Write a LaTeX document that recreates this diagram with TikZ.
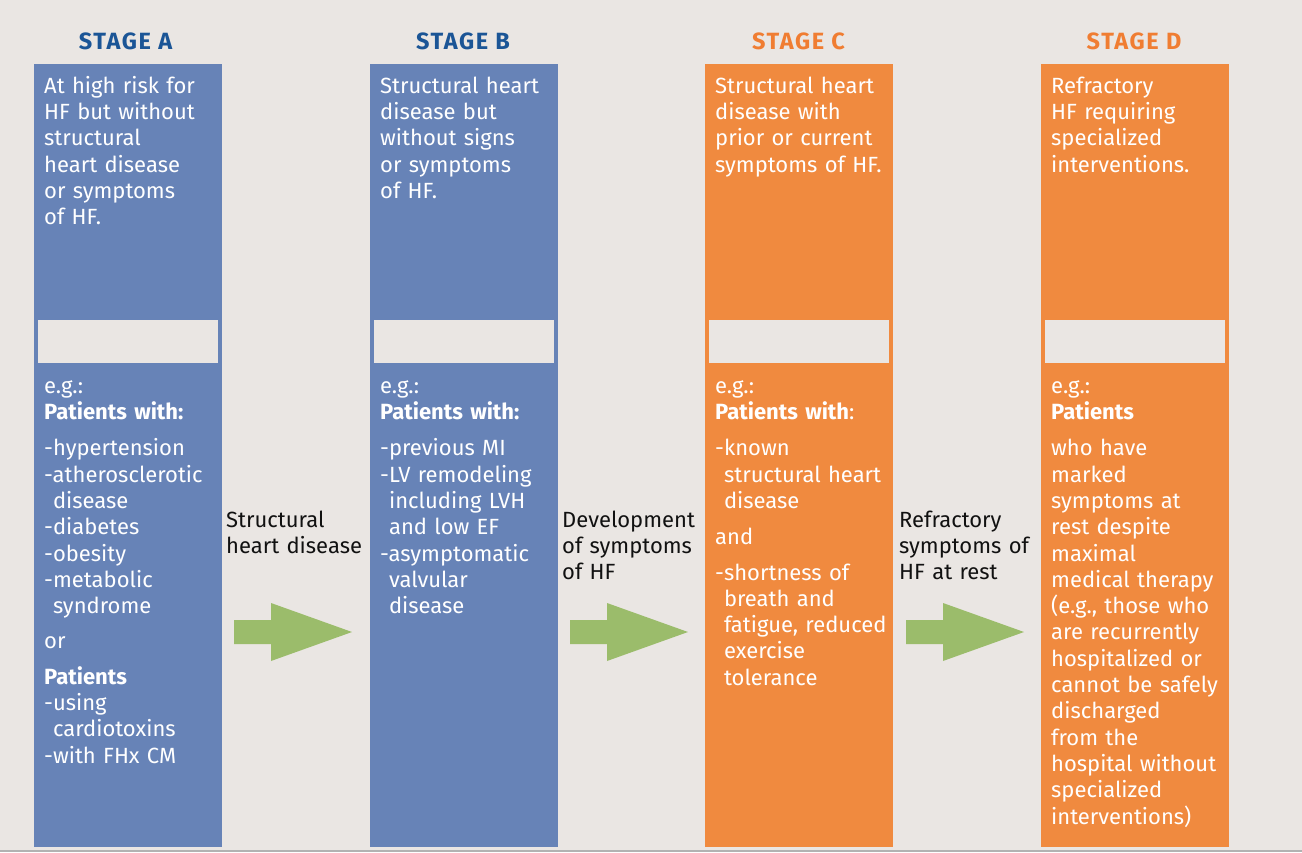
\documentclass[tikz,border=0pt]{standalone}
\usepackage{fontspec}
\setmainfont{Fira Sans}
\usetikzlibrary{calc}
\definecolor{bg}{HTML}{EAE6E3}
\definecolor{colblue}{HTML}{6783B7}
\definecolor{colorange}{HTML}{F08A3F}
\definecolor{tblue}{HTML}{1B5596}
\definecolor{torange}{HTML}{F07D32}
\definecolor{agreen}{HTML}{9BBC6B}
\definecolor{lbl}{HTML}{111111}
\newcommand{\hg}{\phantom{-}}
\begin{document}
\begin{tikzpicture}[x=1pt,y=-1pt,
  column/.style={anchor=north west, inner sep=0, minimum width=188pt, minimum height=783pt},
  bluecol/.style={column, fill=colblue},
  orangecol/.style={column, fill=colorange},
  bar/.style={anchor=north west, inner sep=0, fill=bg, minimum width=180pt, minimum height=43pt},
  title/.style={anchor=base, inner sep=0, font=\fontsize{23.5}{26}\selectfont\bfseries\addfontfeatures{LetterSpace=7}},
  body/.style={anchor=north west, inner sep=0, text=white, align=left, text width=190pt,
    font=\fontsize{22}{26.3}\selectfont},
  lab/.style={anchor=north west, inner sep=0, text=lbl, align=left, text width=150pt,
    font=\fontsize{22}{26.3}\selectfont},
  fatarrow/.style={fill=agreen, draw=none}
]
\fill[bg] (0,0) rectangle (1302,852);
\useasboundingbox (0,0) rectangle (1302,852);
\draw[gray!60, line width=1.5pt] (0,851) -- (1302,851);

% columns
\node[bluecol] (A) at (34,64) {};
\node[bluecol] (B) at (369.5,64) {};
\node[orangecol] (C) at (705,64) {};
\node[orangecol] (D) at (1040.5,64) {};

\node[bar] (Abar) at (38,320) {};
\node[bar] (Bbar) at (373.5,320) {};
\node[bar] (Cbar) at (708.5,320) {};
\node[bar] (Dbar) at (1044.5,320) {};

% titles
\node[title, text=tblue] (At) at (125.5,49) {STAGE A};
\node[title, text=tblue] (Bt) at (463,49) {STAGE B};
\node[title, text=torange] (Ct) at (798.5,49) {STAGE C};
\node[title, text=torange] (Dt) at (1134,49) {STAGE D};

% top texts (first baseline at 93)
\node[body] (Atop) at (44,74.6) {\strut At high risk for\\HF but without\\structural\\heart disease\\or symptoms\\of HF.};
\node[body] (Btop) at (380,74.6) {\strut Structural heart\\disease but\\without signs\\or symptoms\\of HF.};
\node[body] (Ctop) at (715,74.6) {\strut Structural heart\\disease with\\prior or current\\symptoms of HF.};
\node[body] (Dtop) at (1051,74.6) {\strut Refractory\\HF requiring\\specialized\\interventions.};

% lower texts (first baseline at 393)
\node[body] (Alow) at (44,374.6) {\strut e.g.:\\\textbf{Patients with:}\\[10pt]
-hypertension\\-atherosclerotic\\\hg disease\\-diabetes\\-obesity\\-metabolic\\\hg syndrome\\[9pt]
or\\[9pt]\textbf{Patients}\\-using\\\hg cardiotoxins\\-with FHx CM};
\node[body] (Blow) at (380,374.6) {\strut e.g.:\\\textbf{Patients with:}\\[10pt]
-previous MI\\-LV remodeling\\\hg including LVH\\\hg and low EF\\-asymptomatic\\\hg valvular\\\hg disease};
\node[body] (Clow) at (715,374.6) {\strut e.g.:\\\textbf{Patients with}:\\[10pt]
-known\\\hg structural heart\\\hg disease\\[10pt]
and\\[9pt]
-shortness of\\\hg breath and\\\hg fatigue, reduced\\\hg exercise\\\hg tolerance};
\node[body] (Dlow) at (1051,374.6) {\strut e.g.:\\\textbf{Patients}\\[10pt]
who have\\marked\\symptoms at\\rest despite\\maximal\\medical therapy\\(e.g., those who\\are recurrently\\hospitalized or\\cannot be safely\\discharged\\from the\\hospital without\\specialized\\interventions)};

% arrow labels (first baseline at 527)
\node[lab] (L1) at (226,508.6) {\strut Structural\\heart disease};
\node[lab] (L2) at (562,508.6) {\strut Development\\of symptoms\\of HF};
\node[lab] (L3) at (899,508.6) {\strut Refractory\\symptoms of\\HF at rest};

% arrows
\coordinate (a1) at (234,632);
\coordinate (a2) at (570,632);
\coordinate (a3) at (906,632);
\foreach \p in {a1,a2,a3}{
  \fill[fatarrow] ($(\p)+(0,-12)$) -- ++(37,0) -- ++(0,-17) -- ++(81,29) -- ++(-81,29) -- ++(0,-17) -- ++(-37,0) -- cycle;
}
\end{tikzpicture}
\end{document}
